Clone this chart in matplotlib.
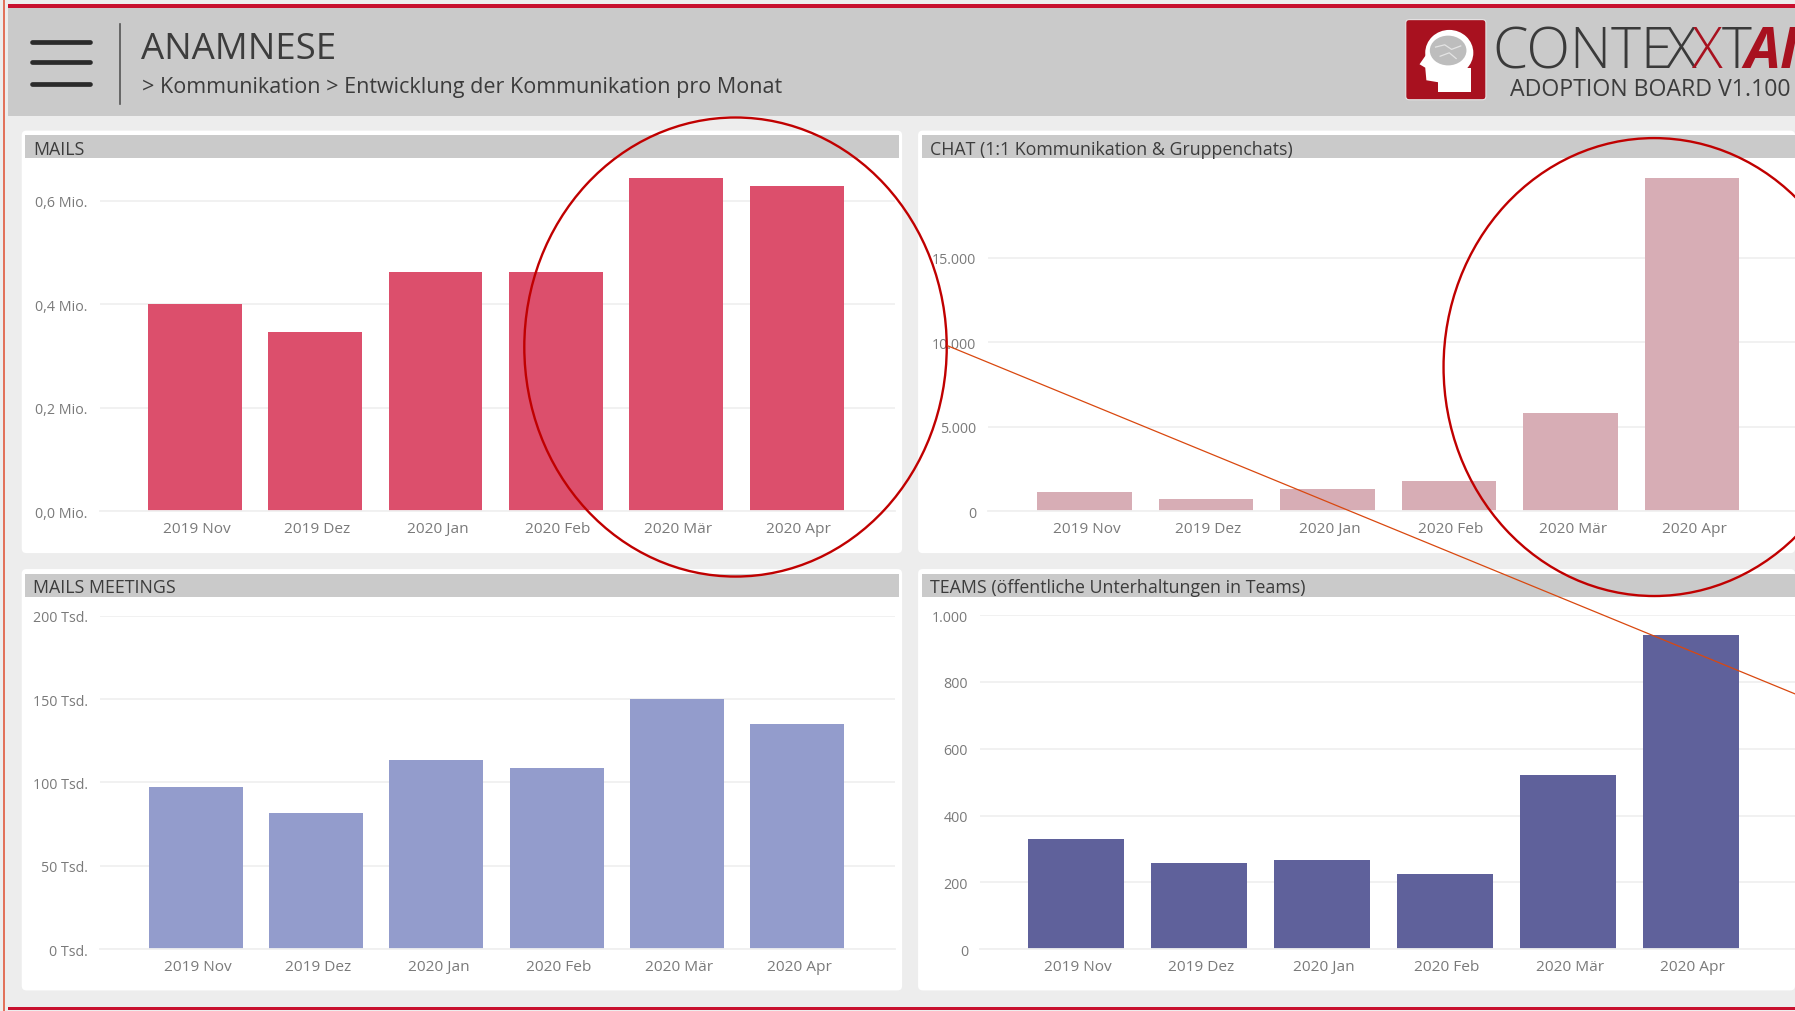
import matplotlib
matplotlib.use('Agg')
import matplotlib.pyplot as plt
from matplotlib.patches import Rectangle, Ellipse, FancyBboxPatch, Polygon

plt.rcParams['font.family'] = ['Open Sans', 'DejaVu Sans']

months = ['2019 Nov', '2019 Dez', '2020 Jan', '2020 Feb', '2020 Mär', '2020 Apr']

mails = [0.40, 0.347, 0.462, 0.462, 0.644, 0.629]
chat = [1120, 710, 1330, 1800, 5820, 19700]
meetings = [97, 81.5, 113.5, 108.5, 150, 135]
teams = [330, 258, 267, 225, 520, 940]

mails_ticks = [0, 0.2, 0.4, 0.6]
mails_labels = ['0,0 Mio.', '0,2 Mio.', '0,4 Mio.', '0,6 Mio.']
chat_ticks = [0, 5000, 10000, 15000]
chat_labels = ['0', '5.000', '10.000', '15.000']
meetings_ticks = [0, 50, 100, 150, 200]
meetings_labels = ['0 Tsd.', '50 Tsd.', '100 Tsd.', '150 Tsd.', '200 Tsd.']
teams_ticks = [0, 200, 400, 600, 800, 1000]
teams_labels = ['0', '200', '400', '600', '800', '1.000']

W, H = 1795, 1012
BG = '#EDEDED'
GREY = '#CACACA'
TEXT = '#3C3C3C'
LOGO_RED = '#A8111F'

fig = plt.figure(figsize=(W / 100, H / 100), dpi=100, facecolor=BG)

# layout is measured on the 1568 wide view
back = fig.add_axes([0, 0, 1, 1], zorder=0)
back.set_xlim(0, 1568)
back.set_ylim(884, 0)
back.axis('off')

# header
back.add_patch(Rectangle((7, 7), 1561, 95, fc=GREY, ec='none'))
back.add_patch(Rectangle((7, 4.5), 1561, 3, fc='#C8102E', ec='none'))
back.add_patch(Rectangle((3, 0), 1.2, 884, fc='#E2725B', ec='none'))
back.add_patch(Rectangle((7, 880.5), 1561, 3, fc='#C8102E', ec='none'))
for y in [37.5, 55, 74]:
    back.plot([28, 79], [y, y], color='#2B2B2B', lw=3.4, solid_capstyle='round')
back.plot([105, 105], [22, 92], color='#555555', lw=1.2)
back.text(123, 43.5, 'ANAMNESE', fontsize=26.4, color=TEXT, va='center', ha='left')
back.text(124, 76, '> Kommunikation > Entwicklung der Kommunikation pro Monat',
          fontsize=15.5, color=TEXT, va='center', ha='left')

# logo
back.add_patch(FancyBboxPatch((1228, 18), 70, 70, boxstyle='round,pad=0,rounding_size=3',
                              fc=LOGO_RED, ec='#E6E6E6', lw=0.8))
back.add_patch(Ellipse((1266, 47), 42, 40, fc='white', ec='none'))
back.add_patch(Polygon([(1256, 60), (1285, 60), (1285, 81), (1256, 81)], fc='white', ec='none'))
back.add_patch(Polygon([(1249, 44), (1240, 57), (1245, 60), (1246, 71), (1258, 73), (1262, 55)],
                       fc='white', ec='none'))
back.add_patch(Ellipse((1265, 45), 32, 26, fc='#BDBDBD', ec='none'))
back.plot([1254, 1262, 1268, 1276], [42, 40, 44, 41], color='#E4E4E4', lw=0.9)
back.plot([1258, 1266, 1272], [50, 47, 52], color='#E4E4E4', lw=0.9)
back.text(1304, 59.5, 'CONTE', fontsize=41, fontweight='light', color='#3A3A3A', va='baseline', ha='left')
back.text(1455, 59.5, 'X', fontsize=41, fontweight='light', color='#3A3A3A', va='baseline', ha='left')
back.text(1478, 59.5, 'X', fontsize=41, fontweight='light', color=LOGO_RED, va='baseline', ha='left')
back.text(1504, 59.5, 'T', fontsize=41, fontweight='light', color='#3A3A3A', va='baseline', ha='left')
back.text(1524, 59.5, 'AI', fontsize=41, fontweight='bold', style='italic', color=LOGO_RED,
          va='baseline', ha='left')
back.text(1319, 79, 'ADOPTION BOARD V1.100', fontsize=16.65, color=TEXT, va='center', ha='left')


def panel(box, grid_x, title, values, color, ticks, labels, y0, ytop, vtop, step, bar_left, bar_w):
    x0, y1, x1, y2 = box
    back.add_patch(FancyBboxPatch((x0, y1), x1 - x0, y2 - y1, boxstyle='round,pad=0,rounding_size=4',
                                  fc='white', ec='none'))
    back.add_patch(Rectangle((x0 + 3, y1 + 4), x1 - x0 - 3 if x1 >= 1568 else x1 - x0 - 6, 20,
                             fc=GREY, ec='none'))
    back.text(x0 + 10, y1 + 16, title, fontsize=12.8, color=TEXT, va='center', ha='left')

    gx0, gx1 = grid_x
    ax = fig.add_axes([gx0 / 1568, 1 - y0 / 884, (gx1 - gx0) / 1568, (y0 - ytop) / 884], zorder=1)
    ax.patch.set_alpha(0)
    pos = list(range(len(values)))
    ax.bar(pos, values, width=bar_w / step, color=color, edgecolor='none', zorder=2)
    c0 = bar_left + bar_w / 2
    ax.set_xlim((gx0 - c0) / step, (gx1 - c0) / step)
    ax.set_ylim(0, vtop)
    # month labels sit a little right of the bar centres
    ax.set_xticks([p + 1.7 / step for p in pos])
    ax.set_xticklabels(months, fontsize=11.1, color='#7A7A7A')
    ax.set_yticks(ticks)
    ax.set_yticklabels(labels, fontsize=10.3, color='#7A7A7A')
    ax.tick_params(axis='both', length=0)
    ax.tick_params(axis='x', pad=7)
    ax.tick_params(axis='y', pad=8.5)
    ax.grid(axis='y', color='#F0F0F0', lw=1.3, zorder=1)
    ax.set_axisbelow(True)
    for s in ax.spines.values():
        s.set_visible(False)
    ax.spines['bottom'].set_visible(True)
    ax.spines['bottom'].set_color('#F0F0F0')
    ax.spines['bottom'].set_linewidth(1.3)
    return ax


panel((19, 115, 788, 484), (87, 782), 'MAILS', mails, '#DC4F6C',
      mails_ticks, mails_labels, 447.3, 156.5, 0.644, 105.2, 129, 82)
panel((802, 115, 1568, 484), (863, 1568), 'CHAT (1:1 Kommunikation & Gruppenchats)', chat, '#D7ADB5',
      chat_ticks, chat_labels, 447.3, 156.5, 19700, 106.2, 906, 82.5)
panel((19, 498, 788, 866), (87, 782), 'MAILS MEETINGS', meetings, '#939CCC',
      meetings_ticks, meetings_labels, 830, 538.7, 200, 105.1, 130, 82)
panel((802, 498, 1568, 866), (856, 1568), 'TEAMS (öffentliche Unterhaltungen in Teams)', teams, '#5F619B',
      teams_ticks, teams_labels, 830, 538.2, 1000, 107.4, 898, 84)

# annotations drawn over the dashboard
front = fig.add_axes([0, 0, 1, 1], zorder=5)
front.set_xlim(0, 1568)
front.set_ylim(884, 0)
front.axis('off')
front.patch.set_alpha(0)
front.add_patch(Ellipse((642.5, 304), 369, 401, fc='none', ec='#C00000', lw=1.7))
front.add_patch(Ellipse((1445, 321.5), 368, 400, fc='none', ec='#C00000', lw=1.7))
front.plot([828, 1568], [303, 607], color='#D9480F', lw=0.9)

fig.savefig('out.png', dpi=100, facecolor=BG)
